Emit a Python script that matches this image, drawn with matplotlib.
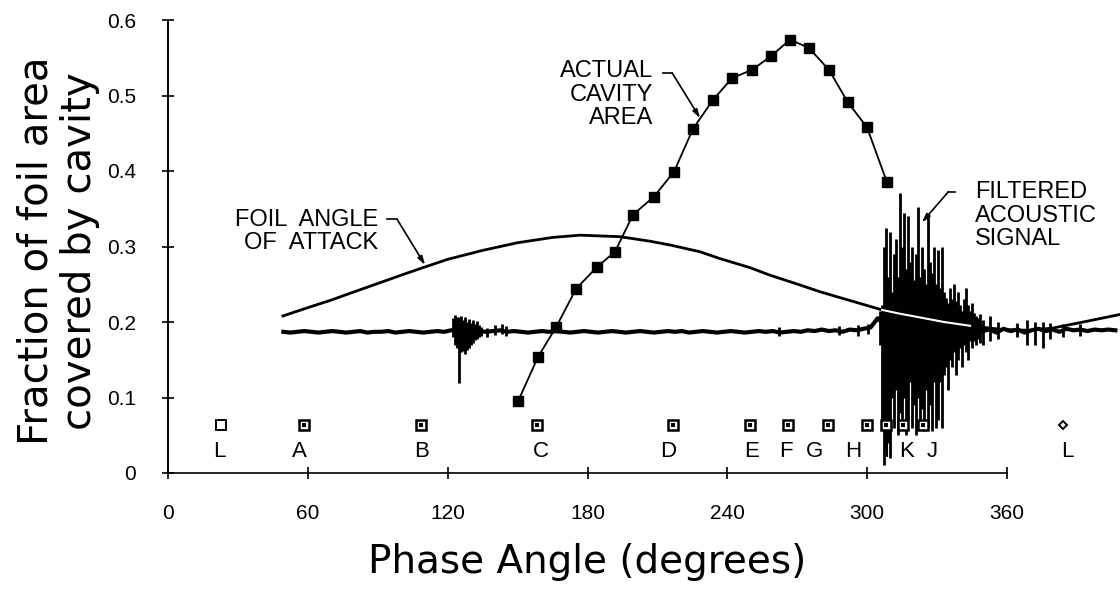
import numpy as np
import matplotlib
matplotlib.use("Agg")
import matplotlib.pyplot as plt

# ---------------- data ----------------
# Actual cavity area (filled squares)
cav_phase = [150.2, 158.8, 166.5, 175.1, 184.1, 191.8, 199.5, 208.5, 217.1, 225.3,
             233.8, 242.0, 250.6, 258.7, 266.9, 275.0, 283.6, 291.7, 299.9, 308.5]
cav_frac = [0.095, 0.154, 0.193, 0.244, 0.273, 0.293, 0.342, 0.366, 0.399, 0.456,
            0.494, 0.523, 0.534, 0.552, 0.574, 0.563, 0.534, 0.491, 0.458, 0.385]

# Foil angle of attack (scaled curve)
aoa_phase = [49.3, 60, 70, 78.1, 90, 100, 109.4, 120, 135.2, 150, 165, 176.8, 193.9,
             206.8, 215.4, 228.3, 236.8, 249.7, 258.3, 271.2, 279.8, 292, 306.4, 314,
             322.7, 333, 344.1, 358.3, 370, 379.7, 394.3, 408.5]
aoa_val = [0.208, 0.219, 0.229, 0.238, 0.251, 0.262, 0.272, 0.283, 0.295, 0.305, 0.312,
           0.315, 0.313, 0.307, 0.302, 0.293, 0.284, 0.272, 0.262, 0.249, 0.240, 0.229,
           0.216, 0.211, 0.206, 0.200, 0.195, 0.190, 0.189, 0.192, 0.201, 0.210]

# Filtered acoustic signal: baseline trace (sampled every 3 degrees)
base_phase = np.arange(49.5, 407.0, 3.0)
base_val = [0.187, 0.186, 0.187, 0.188, 0.187, 0.186, 0.187, 0.188, 0.187, 0.186,
            0.187, 0.188, 0.186, 0.187, 0.187, 0.188, 0.186, 0.187, 0.188, 0.187,
            0.186, 0.187, 0.188, 0.187, 0.189, 0.190, 0.188, 0.189, 0.188, 0.187,
            0.188, 0.189, 0.187, 0.188, 0.187, 0.186, 0.187, 0.188, 0.187, 0.188,
            0.187, 0.186, 0.187, 0.188, 0.187, 0.186, 0.187, 0.188, 0.187, 0.186,
            0.187, 0.188, 0.187, 0.186, 0.187, 0.188, 0.187, 0.188, 0.186, 0.187,
            0.188, 0.187, 0.186, 0.187, 0.188, 0.187, 0.186, 0.187, 0.188, 0.187,
            0.188, 0.186, 0.187, 0.188, 0.187, 0.189, 0.188, 0.190, 0.188, 0.189,
            0.187, 0.190, 0.189, 0.191, 0.193, 0.205, 0.195, 0.190, 0.188, 0.188,
            0.188, 0.188, 0.188, 0.188, 0.188, 0.188, 0.188, 0.188, 0.188, 0.188,
            0.188, 0.190, 0.186, 0.191, 0.188, 0.190, 0.186, 0.189, 0.191, 0.188,
            0.190, 0.187, 0.191, 0.189, 0.190, 0.188, 0.190, 0.189, 0.190, 0.189]

# Acoustic bursts: spike phase, lower and upper excursion
spike_phase = [122.3, 123.1, 124.0, 124.9, 125.7, 126.6, 127.4, 128.3, 129.2, 130.0,
               130.9, 131.7, 132.6, 133.4, 134.3, 137.0, 140.5, 143.5, 145.0, 262.0,
               288.0, 296.0, 300.5,
               305.5, 306.4, 307.2, 308.1, 309.0, 309.8, 310.7, 311.6, 312.4, 313.3,
               314.1, 315.0, 315.9, 316.7, 317.6, 318.4, 319.3, 320.2, 321.0, 321.9,
               322.7, 323.6, 324.5, 325.3, 326.2, 327.0, 327.9, 328.8, 329.6, 330.5,
               331.3, 332.2, 333.1, 333.9, 334.8, 335.6, 336.5, 337.4, 338.2, 339.1,
               339.9, 340.8, 341.7, 342.5, 343.4, 344.2, 345.1, 346.0, 346.8, 347.7,
               348.5, 349.7, 352.7, 356.0, 364.3, 368.6, 372.0, 375.4, 378.4, 384.0,
               391.3]
spike_lo = [0.180, 0.170, 0.165, 0.119, 0.160, 0.162, 0.158, 0.163, 0.166, 0.170,
            0.172, 0.176, 0.178, 0.180, 0.182, 0.180, 0.183, 0.184, 0.182, 0.182,
            0.183, 0.182, 0.184,
            0.170, 0.060, 0.011, 0.030, 0.040, 0.020, 0.100, 0.060, 0.110, 0.050,
            0.080, 0.060, 0.100, 0.050, 0.070, 0.120, 0.060, 0.090, 0.050, 0.100,
            0.065, 0.085, 0.055, 0.110, 0.060, 0.090, 0.055, 0.120, 0.060, 0.070,
            0.120, 0.060, 0.130, 0.140, 0.110, 0.150, 0.140, 0.160, 0.130, 0.150,
            0.165, 0.140, 0.170, 0.160, 0.150, 0.175, 0.165, 0.175, 0.170, 0.178,
            0.172, 0.170, 0.175, 0.178, 0.180, 0.170, 0.170, 0.165, 0.178, 0.180,
            0.181]
spike_hi = [0.205, 0.209, 0.207, 0.206, 0.208, 0.203, 0.207, 0.200, 0.204, 0.199,
            0.203, 0.198, 0.201, 0.196, 0.194, 0.192, 0.196, 0.197, 0.195, 0.193,
            0.195, 0.196, 0.198,
            0.215, 0.222, 0.300, 0.324, 0.260, 0.319, 0.240, 0.290, 0.310, 0.260,
            0.371, 0.300, 0.345, 0.270, 0.340, 0.280, 0.300, 0.255, 0.290, 0.352,
            0.260, 0.300, 0.270, 0.250, 0.345, 0.280, 0.265, 0.300, 0.250, 0.295,
            0.245, 0.300, 0.240, 0.232, 0.225, 0.245, 0.230, 0.250, 0.228, 0.240,
            0.222, 0.215, 0.230, 0.245, 0.222, 0.215, 0.225, 0.212, 0.208, 0.205,
            0.210, 0.203, 0.208, 0.200, 0.199, 0.203, 0.200, 0.200, 0.199, 0.198,
            0.198]

# Event markers along the bottom
event_phase = [22.7, 58.3, 108.5, 158.4, 216.7, 249.7, 266.0, 283.2, 299.9, 308.1,
               315.4, 324.0, 384.0]
event_label = ['L', 'A', 'B', 'C', 'D', 'E', 'F', 'G', 'H', 'I', 'K', 'J', 'L']
event_label_phase = [21.9, 56.2, 109.0, 160.0, 214.5, 250.2, 265.2, 277.6, 293.9,
                     308.5, 317.1, 327.8, 385.7]
event_level = 0.0636
event_text_level = 0.021

x_ticks = [0, 60, 120, 180, 240, 300, 360]
y_ticks = [0, 0.1, 0.2, 0.3, 0.4, 0.5, 0.6]
y_tick_labels = ['0', '0.1', '0.2', '0.3', '0.4', '0.5', '0.6']

# ---------------- figure ----------------
W, H = 1120, 590
fig = plt.figure(figsize=(W / 100, H / 100), dpi=100)
ax = fig.add_axes([168 / W, 117 / H, (W - 168) / W, 453 / H])
ax.set_xlim(0, (W - 168) / 2.3306)
ax.set_ylim(0, 0.6)
ax.patch.set_visible(False)

# baseline of acoustic signal
ax.plot(base_phase, base_val, color='black', lw=3.0, zorder=2, solid_joinstyle='round')
ax.vlines(spike_phase, spike_lo, spike_hi, colors='black', lw=2.0, zorder=2)

# foil angle curve
ax.plot(aoa_phase, aoa_val, color='black', lw=2.0, zorder=1)
aoa_p = np.array(aoa_phase)
aoa_v = np.array(aoa_val)
m = (aoa_p >= 306) & (aoa_p <= 345)
ax.plot(aoa_p[m], aoa_v[m], color='white', lw=1.5, zorder=3)

# cavity area
ax.plot(cav_phase, cav_frac, color='black', lw=1.3, marker='s', ms=6.5,
        mfc='black', mec='black', zorder=4)

# event markers
lab_font = ['Liberation Sans', 'DejaVu Sans']
for i, (p, lab, lp) in enumerate(zip(event_phase, event_label, event_label_phase)):
    if i == 0:
        ax.plot([p], [event_level], marker='s', ms=6.5, mfc='white', mec='black',
                mew=1.4, zorder=5, clip_on=False)
    elif i == len(event_phase) - 1:
        ax.plot([p], [event_level], marker='D', ms=4.5, mfc='white', mec='black',
                mew=1.4, zorder=5, clip_on=False)
    else:
        ax.plot([p], [event_level], marker='s', ms=7, mfc='white', mec='black',
                mew=1.8, zorder=5)
        ax.plot([p], [event_level], marker='s', ms=2.8, mfc='black', mec='black',
                mew=0, zorder=6)
    ax.text(lp, event_text_level, lab, ha='center', va='baseline',
            fontsize=16, family=lab_font, zorder=6)

# annotations
afont = dict(fontsize=17, family=lab_font, linespacing=1.1)
arrow = dict(arrowstyle='-|>,head_length=0.5,head_width=0.15',
             color='black', lw=1.2, shrinkA=0, shrinkB=0)
ax.text(90.1, 0.350, 'FOIL  ANGLE\nOF  ATTACK', ha='right', va='top',
        multialignment='right', **afont)
ax.plot([94.0, 98.3], [0.336, 0.336], color='black', lw=1.2)
ax.annotate('', xy=(110.3, 0.2755), xytext=(98.3, 0.336), arrowprops=arrow)

ax.text(208.1, 0.547, 'ACTUAL\nCAVITY\nAREA', ha='right', va='top',
        multialignment='right', **afont)
ax.plot([212.4, 216.3], [0.530, 0.530], color='black', lw=1.2)
ax.annotate('', xy=(228.3, 0.470), xytext=(216.3, 0.530), arrowprops=arrow)

ax.text(346.3, 0.387, 'FILTERED\nACOUSTIC\nSIGNAL', ha='left', va='top',
        multialignment='left', **afont)
ax.plot([337.7, 334.7], [0.372, 0.372], color='black', lw=1.2)
ax.annotate('', xy=(323.5, 0.332), xytext=(334.7, 0.372), arrowprops=arrow)

# axes styling
for s in ['top', 'right']:
    ax.spines[s].set_visible(False)
ax.spines['left'].set_bounds(0, 0.6)
ax.spines['bottom'].set_bounds(0, 360)
ax.spines['left'].set_linewidth(1.4)
ax.spines['bottom'].set_linewidth(1.2)

ax.set_xticks(x_ticks)
ax.set_xticklabels([str(t) for t in x_ticks])
ax.set_yticks(y_ticks)
ax.set_yticklabels(y_tick_labels)
tick_font = ['Liberation Sans Narrow', 'Liberation Sans']
ax.tick_params(axis='x', direction='inout', length=8, width=1.2, pad=18, labelsize=15)
ax.tick_params(axis='y', direction='inout', length=8, width=1.2, pad=19, labelsize=15)
for lab in ax.get_xticklabels() + ax.get_yticklabels():
    lab.set_family(tick_font)

# axis titles (x title centred on the 0-360 axis line)
fig.text((168 + 1007) / 2 / W, 1 - 562 / H, 'Phase Angle (degrees)', ha='center',
         va='center', fontsize=28, family=['DejaVu Sans'])
fig.text(58 / W, 1 - 251 / H, 'Fraction of foil area\ncovered by cavity', rotation=90,
         ha='center', va='center', fontsize=29, family=['DejaVu Sans'],
         linespacing=1.1)

fig.savefig('out.png', dpi=100)
